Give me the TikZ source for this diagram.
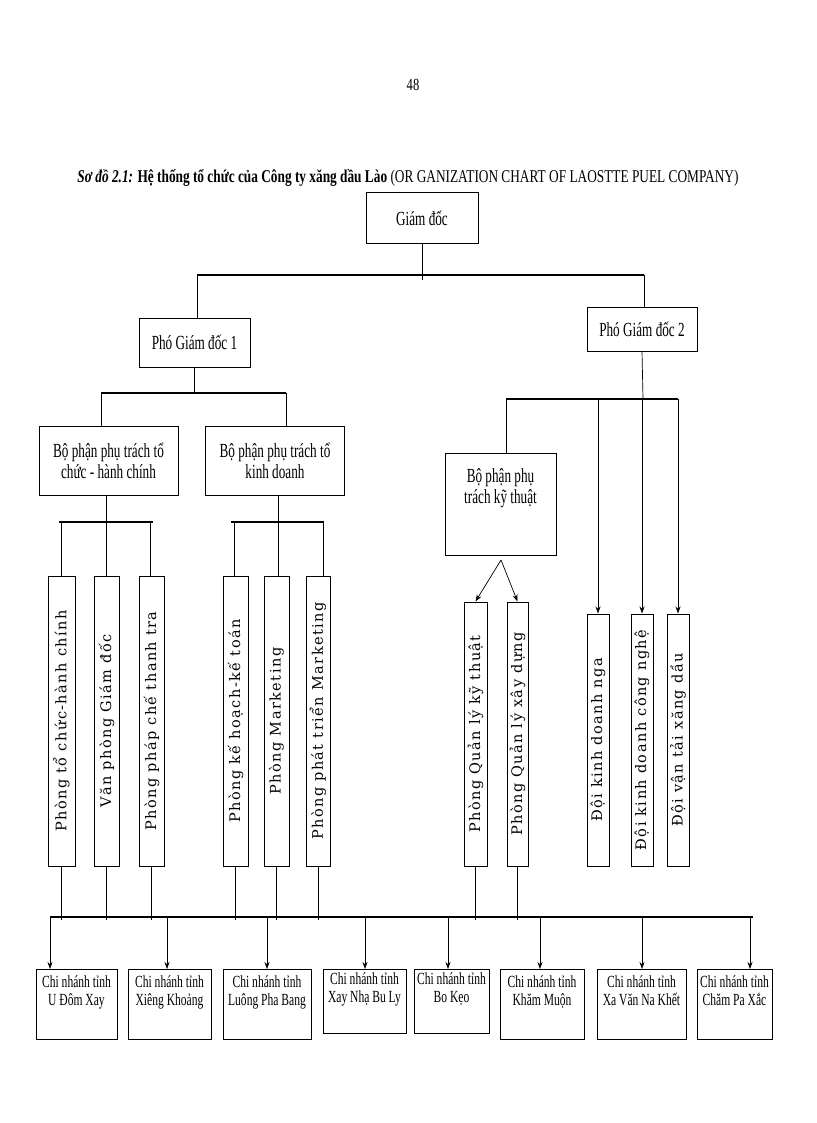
\documentclass[tikz,border=0pt]{standalone}
\usepackage{fontspec}
\setmainfont{Liberation Serif}
\newfontfamily\narrow[FakeStretch=0.74]{Liberation Serif}
\newfontfamily\narrowb[FakeStretch=0.66]{Liberation Serif}
\newfontfamily\narrowc[FakeStretch=0.68]{Liberation Serif}
\newfontfamily\wide[LetterSpace=10]{DejaVu Serif}
\usetikzlibrary{arrows.meta}
\tikzset{
  box/.style={draw, line width=1pt, align=center, inner sep=1pt, font=\narrowb\fontsize{20}{21}\selectfont},
  vbox/.style={draw, line width=1pt, rotate=90, inner sep=0pt, font=\wide\fontsize{14.5}{16}\selectfont},
  bbox/.style={draw, line width=1pt, align=center, inner sep=1pt, font=\narrowc\fontsize{17}{18}\selectfont},
  ln/.style={line width=0.7pt},
  bar/.style={line width=1.5pt},
  arr/.style={line width=0.7pt, -{Stealth[length=7pt,width=5pt]}}
}
\begin{document}
\begin{tikzpicture}[x=1pt,y=-1pt]
\useasboundingbox (0,0) rectangle (816,1123);
\node (pg) at (413,85) {\narrow\fontsize{17}{19}\selectfont 48};
\node (title) at (408,178) {\narrow\fontsize{18}{20}\selectfont\textbf{\textit{Sơ đồ 2.1:}} \textbf{Hệ thống tổ chức của Công ty xăng dầu Lào} (OR GANIZATION CHART OF LAOSTTE PUEL COMPANY)};
% top levels
\node[box, minimum width=112, minimum height=50] (gd) at (422,218) {Giám đốc};
\node[box, minimum width=111, minimum height=49] (p1) at (194.5,342.5) {Phó Giám đốc 1};
\node[box, minimum width=110, minimum height=44] (p2) at (642,329) {Phó Giám đốc 2};
\node[box, minimum width=139, minimum height=69] (b1) at (108.5,460.5) {Bộ phận phụ trách tổ\\chức - hành chính};
\node[box, minimum width=139, minimum height=69] (b2) at (275,460.5) {Bộ phận phụ trách tổ\\kinh doanh};
\node[box, minimum width=111, minimum height=102] (b3) at (500.5,504) {Bộ phận phụ\\trách kỹ thuật\\[14pt]};
% vertical boxes
\node[vbox, minimum width=290, minimum height=27] (v1) at (61.5,721) {Phòng tổ chức-hành chính};
\node[vbox, minimum width=290, minimum height=25] (v2) at (106.5,721) {Văn phòng Giám đốc};
\node[vbox, minimum width=290, minimum height=25] (v3) at (151.5,721) {Phòng pháp chế thanh tra};
\node[vbox, minimum width=290, minimum height=25] (v4) at (235.5,721) {Phòng kế hoạch-kế toán};
\node[vbox, minimum width=290, minimum height=25] (v5) at (276.5,721) {Phòng Marketing};
\node[vbox, minimum width=290, minimum height=24] (v6) at (318,721) {Phòng phát triển Marketing};
\node[vbox, minimum width=264, minimum height=23] (v7) at (475.5,734) {Phòng Quản lý kỹ thuật};
\node[vbox, minimum width=264, minimum height=21] (v8) at (517.5,734) {Phòng Quản lý xây dựng};
\node[vbox, minimum width=252, minimum height=22] (v9) at (598,740) {Đội kinh doanh nga};
\node[vbox, minimum width=252, minimum height=22] (v10) at (642,740) {Đội kinh doanh công nghệ};
\node[vbox, minimum width=252, minimum height=22] (v11) at (678,740) {Đội vận tải xăng dầu};
% bottom boxes
\node[bbox, minimum width=81, minimum height=70] (c1) at (76.5,1004) {Chi nhánh tỉnh\\U Đôm Xay\\[8pt]};
\node[bbox, minimum width=83, minimum height=70] (c2) at (169.5,1004) {Chi nhánh tỉnh\\Xiêng Khoảng\\[8pt]};
\node[bbox, minimum width=88, minimum height=70] (c3) at (267,1004) {Chi nhánh tỉnh\\Luông Pha Bang\\[8pt]};
\node[bbox, minimum width=83, minimum height=64] (c4) at (364.5,1001) {Chi nhánh tỉnh\\Xay Nhạ Bu Ly\\[8pt]};
\node[bbox, minimum width=75, minimum height=64] (c5) at (451.5,1001) {Chi nhánh tỉnh\\Bo Kẹo\\[8pt]};
\node[bbox, minimum width=84, minimum height=70] (c6) at (542,1004) {Chi nhánh tỉnh\\Khăm Muộn\\[8pt]};
\node[bbox, minimum width=89, minimum height=70] (c7) at (641.5,1004) {Chi nhánh tỉnh\\Xa Văn Na Khết\\[8pt]};
\node[bbox, minimum width=75, minimum height=70] (c8) at (734.5,1004) {Chi nhánh tỉnh\\Chăm Pa Xắc\\[8pt]};
% connectors top
\draw[ln] (gd.south) -- (422,280);
\draw[bar] (197,275) -- (644,275);
\draw[ln] (197,275) -- (197,318);
\draw[ln] (644,275) -- (644,307);
\draw[ln] (p1.south) -- (194.5,393);
\draw[bar] (101,393) -- (286,393);
\draw[ln] (101,393) -- (101,426);
\draw[ln] (286,393) -- (286,426);
\draw[ln] (p2.south) -- (643,399);
\draw[bar] (506,399) -- (678,399);
\draw[ln] (506,399) -- (506,453);
\draw[arr] (598,399) -- (v9.east);
\draw[arr] (642,399) -- (v10.east);
\draw[arr] (678,399) -- (v11.east);
\draw[ln] (b1.south -| 106,0) -- (106,522);
\draw[bar] (59,522) -- (153,522);
\draw[ln] (61,522) -- (v1.east -| 61,0);
\draw[ln] (106,522) -- (v2.east -| 106,0);
\draw[ln] (150,522) -- (v3.east -| 150,0);
\draw[ln] (b2.south -| 278,0) -- (278,522);
\draw[bar] (231,522) -- (324,522);
\draw[ln] (234,522) -- (v4.east -| 234,0);
\draw[ln] (278,522) -- (v5.east -| 278,0);
\draw[ln] (323,522) -- (v6.east -| 323,0);
\draw[arr] (501,560) -- (v7.east);
\draw[arr] (501,560) -- (v8.east);
% bottom
\draw[bar] (50,917) -- (753,917);
\foreach \v in {v1,v2,v3,v4,v5,v6,v7,v8}{\draw[ln] (\v.west) -- (\v.west |- 0,920);}
\foreach \c/\x in {c1/50,c2/167,c3/267,c4/365,c5/448,c6/540,c7/642,c8/750}{\draw[arr] (\x,917) -- (\x,969);}
\end{tikzpicture}
\end{document}
